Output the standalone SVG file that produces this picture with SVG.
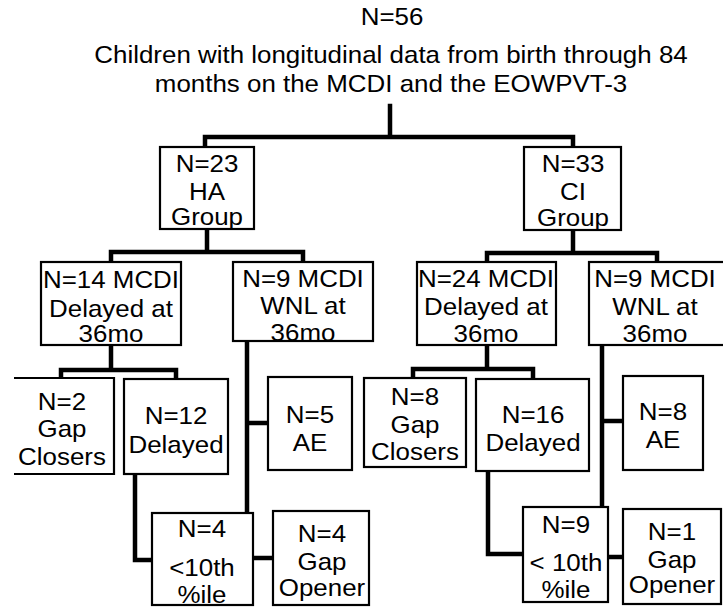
<svg xmlns="http://www.w3.org/2000/svg" width="723" height="608" viewBox="0 0 723 608">
<style>
  .box { fill: #fff; stroke: #000; stroke-width: 2.2; }
  .conn { fill: none; stroke: #000; stroke-width: 4.5; stroke-linecap: square; stroke-linejoin: miter; }
  text { font-family: "Liberation Sans", Arial, Helvetica, sans-serif; font-size: 24px; fill: #000; text-anchor: middle; }
</style>
<rect width="723" height="608" fill="#fff"/>
<g id="connectors">
  <path class="conn" d="M390,106 V137 M205,137 H573 M205,137 V147 M573,137 V147"/>
  <path class="conn" d="M207,229 V252 M111,252 H303 M111,252 V262 M303,252 V262"/>
  <path class="conn" d="M573,230 V253 M487,253 H657 M487,253 V262 M657,253 V262"/>
  <path class="conn" d="M111,345 V370 M61,370 H176 M61,370 V378 M176,370 V379"/>
  <path class="conn" d="M247,341 V513 M247,423 H268"/>
  <path class="conn" d="M135,474 V560 H152"/>
  <path class="conn" d="M253,558 H273"/>
  <path class="conn" d="M487,345 V369 M413,369 H533 M413,369 V378 M533,369 V379"/>
  <path class="conn" d="M602,345 V507 M602,421 H623"/>
  <path class="conn" d="M488,471 V554 H523"/>
  <path class="conn" d="M608,557 H623"/>
</g>
<g id="title">
  <text transform="translate(392,25) scale(1.08,1)">N=56</text>
  <text transform="translate(391,63) scale(1.08,1)">Children with longitudinal data from birth through 84</text>
  <text transform="translate(391,92) scale(1.08,1)">months on the MCDI and the EOWPVT-3</text>
</g>
<g id="ha">
  <rect class="box" x="160" y="147" width="94" height="82"/>
  <text transform="translate(207,172) scale(1.08,1)">N=23</text>
  <text transform="translate(207,200) scale(1.08,1)">HA</text>
  <text transform="translate(207,225) scale(1.08,1)">Group</text>
</g>
<g id="ci">
  <rect class="box" x="524" y="147" width="97" height="83"/>
  <text transform="translate(573,172) scale(1.08,1)">N=33</text>
  <text transform="translate(573,200) scale(1.08,1)">CI</text>
  <text transform="translate(573,226) scale(1.08,1)">Group</text>
</g>
<g id="ha-delayed">
  <rect class="box" x="41" y="262" width="140" height="83"/>
  <text transform="translate(111,288) scale(1.08,1)">N=14 MCDI</text>
  <text transform="translate(111,317) scale(1.08,1)">Delayed at</text>
  <text transform="translate(111,342) scale(1.08,1)">36mo</text>
</g>
<g id="ha-wnl">
  <rect class="box" x="233" y="262" width="140" height="79"/>
  <text transform="translate(303,287) scale(1.08,1)">N=9 MCDI</text>
  <text transform="translate(303,314) scale(1.08,1)">WNL at</text>
  <text transform="translate(303,341) scale(1.08,1)">36mo</text>
</g>
<g id="ci-delayed">
  <rect class="box" x="417" y="262" width="139" height="83"/>
  <text transform="translate(486,287) scale(1.08,1)">N=24 MCDI</text>
  <text transform="translate(486,315) scale(1.08,1)">Delayed at</text>
  <text transform="translate(486,342) scale(1.08,1)">36mo</text>
</g>
<g id="ci-wnl">
  <rect class="box" x="589" y="262" width="140" height="83"/>
  <text transform="translate(655,287) scale(1.08,1)">N=9 MCDI</text>
  <text transform="translate(655,315) scale(1.08,1)">WNL at</text>
  <text transform="translate(655,342) scale(1.08,1)">36mo</text>
</g>
<g id="ha-gap-closers">
  <path class="box" d="M14,378 H114 V474 H14"/>
  <text transform="translate(62,410) scale(1.08,1)">N=2</text>
  <text transform="translate(62,437) scale(1.08,1)">Gap</text>
  <text transform="translate(62,465) scale(1.08,1)">Closers</text>
</g>
<g id="ha-still-delayed">
  <rect class="box" x="124" y="379" width="104" height="95"/>
  <text transform="translate(176,424) scale(1.08,1)">N=12</text>
  <text transform="translate(176,453) scale(1.08,1)">Delayed</text>
</g>
<g id="ha-ae">
  <rect class="box" x="268" y="377" width="84" height="93"/>
  <text transform="translate(310,423) scale(1.08,1)">N=5</text>
  <text transform="translate(310,451) scale(1.08,1)">AE</text>
</g>
<g id="ci-gap-closers">
  <rect class="box" x="364" y="378" width="102" height="89"/>
  <text transform="translate(415,405) scale(1.08,1)">N=8</text>
  <text transform="translate(415,433) scale(1.08,1)">Gap</text>
  <text transform="translate(415,460) scale(1.08,1)">Closers</text>
</g>
<g id="ci-still-delayed">
  <rect class="box" x="476" y="379" width="113" height="92"/>
  <text transform="translate(533,423) scale(1.08,1)">N=16</text>
  <text transform="translate(533,451) scale(1.08,1)">Delayed</text>
</g>
<g id="ci-ae">
  <rect class="box" x="623" y="376" width="80" height="94"/>
  <text transform="translate(663,420) scale(1.08,1)">N=8</text>
  <text transform="translate(663,448) scale(1.08,1)">AE</text>
</g>
<g id="ha-below10">
  <rect class="box" x="152" y="513" width="101" height="92"/>
  <text transform="translate(202,537) scale(1.08,1)">N=4</text>
  <text transform="translate(202,576) scale(1.08,1)">&lt;10th</text>
  <text transform="translate(202,603) scale(1.08,1)">%ile</text>
</g>
<g id="ha-gap-opener">
  <rect class="box" x="273" y="511" width="96" height="94"/>
  <text transform="translate(322,542) scale(1.08,1)">N=4</text>
  <text transform="translate(322,570) scale(1.08,1)">Gap</text>
  <text transform="translate(322,596) scale(1.08,1)">Opener</text>
</g>
<g id="ci-below10">
  <rect class="box" x="523" y="507" width="85" height="95"/>
  <text transform="translate(566,533) scale(1.08,1)">N=9</text>
  <text transform="translate(566,571) scale(1.08,1)">&lt; 10th</text>
  <text transform="translate(566,598) scale(1.08,1)">%ile</text>
</g>
<g id="ci-gap-opener">
  <rect class="box" x="623" y="509" width="98" height="95"/>
  <text transform="translate(672,540) scale(1.08,1)">N=1</text>
  <text transform="translate(672,568) scale(1.08,1)">Gap</text>
  <text transform="translate(672,593) scale(1.08,1)">Opener</text>
</g>
</svg>
